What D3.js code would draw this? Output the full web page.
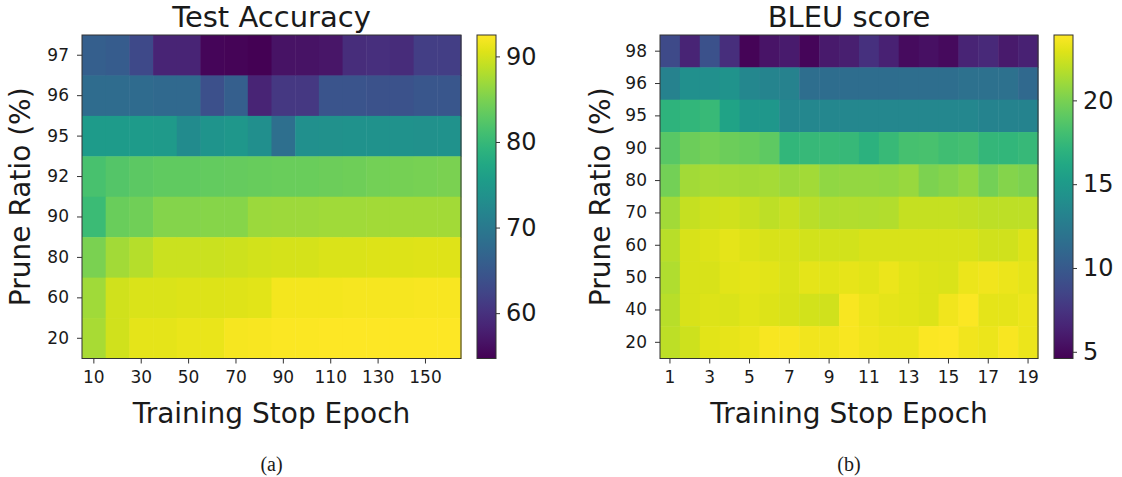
<!DOCTYPE html>
<html>
<head>
<meta charset="utf-8">
<title>Heatmaps</title>
<script src="https://d3js.org/d3.v7.min.js"></script>
<style>
  body { margin: 0; background: #fff; }
  svg text { font-family: "DejaVu Sans", sans-serif; fill: #1a1a1a; }
  .axis path, .axis line { stroke: #333; }
  .caption { font-family: "Liberation Serif", "Times New Roman", serif !important; }
</style>
</head>
<body>
<svg width="1122" height="477"></svg>
<script>
// ---- panel (a): test accuracy ----
var accEpochs = [10, 20, 30, 40, 50, 60, 70, 80, 90, 100, 110, 120, 130, 140, 150, 160];
var accRatios = [97, 96, 95, 92, 90, 80, 60, 20];
var accTicks = [10, 30, 50, 70, 90, 110, 130, 150];
var accBarTicks = [60, 70, 80, 90];
var accValues = [
  [66.0, 65.5, 63.0, 58.5, 58.5, 55.2, 55.0, 54.8, 56.5, 56.5, 56.8, 59.5, 59.8, 59.3, 61.5, 61.5],
  [67.9, 67.9, 67.8, 67.5, 67.5, 64.0, 66.0, 58.5, 60.8, 60.8, 64.5, 64.5, 64.2, 64.2, 64.8, 64.8],
  [75.3, 75.3, 75.3, 75.2, 72.8, 74.2, 74.7, 73.4, 68.3, 73.6, 73.7, 74.0, 74.0, 73.8, 73.7, 73.9],
  [81.5, 82.4, 83.0, 83.2, 83.3, 83.4, 83.6, 83.7, 83.8, 83.9, 84.0, 84.2, 84.4, 84.6, 84.7, 84.9],
  [80.4, 83.8, 84.3, 85.5, 85.5, 85.7, 85.6, 86.8, 87.0, 87.0, 87.1, 87.1, 87.2, 87.2, 87.3, 87.3],
  [84.9, 87.2, 88.3, 89.4, 89.5, 89.5, 89.6, 89.9, 90.0, 90.1, 90.3, 90.4, 90.5, 90.5, 90.6, 90.6],
  [87.1, 89.7, 90.3, 90.4, 90.5, 90.5, 90.6, 90.8, 91.8, 91.9, 91.9, 92.0, 92.0, 92.0, 92.1, 92.1],
  [87.5, 89.8, 90.9, 91.0, 91.2, 91.3, 92.0, 92.2, 92.3, 92.3, 92.4, 92.4, 92.4, 92.5, 92.5, 92.5]
];

// ---- panel (b): BLEU score ----
var bleuEpochs = [1, 2, 3, 4, 5, 6, 7, 8, 9, 10, 11, 12, 13, 14, 15, 16, 17, 18, 19];
var bleuRatios = [98, 96, 95, 90, 80, 70, 60, 50, 40, 20];
var bleuTicks = [1, 3, 5, 7, 9, 11, 13, 15, 17, 19];
var bleuBarTicks = [5, 10, 15, 20];
var bleuValues = [
  [8.9, 6.5, 9.4, 7.1, 4.8, 5.6, 6.0, 4.9, 5.9, 6.2, 7.3, 6.4, 5.2, 5.4, 5.1, 6.5, 6.8, 5.9, 6.4],
  [13.1, 14.2, 14.2, 14.5, 13.5, 13.3, 13.1, 11.5, 11.4, 11.4, 11.4, 11.4, 11.5, 11.5, 11.5, 11.7, 11.7, 11.7, 11.1],
  [17.1, 17.3, 17.6, 15.8, 14.8, 14.8, 13.5, 13.5, 13.5, 13.5, 13.5, 13.5, 13.5, 13.5, 13.5, 13.5, 13.2, 13.2, 13.2],
  [18.9, 19.6, 19.8, 19.6, 19.4, 19.1, 17.3, 17.5, 17.6, 17.5, 16.9, 17.6, 18.2, 18.3, 18.0, 18.1, 17.4, 17.3, 17.5],
  [19.8, 21.2, 21.4, 21.3, 21.2, 21.3, 21.0, 21.2, 20.7, 20.8, 20.8, 20.7, 20.9, 20.1, 20.3, 20.7, 19.8, 20.3, 20.1],
  [21.2, 22.2, 22.4, 22.5, 22.3, 22.0, 22.3, 21.9, 21.6, 21.7, 21.6, 21.7, 22.2, 22.2, 22.2, 22.1, 22.0, 22.0, 22.0],
  [21.8, 22.7, 22.9, 23.1, 22.9, 22.7, 22.7, 22.6, 22.6, 22.6, 22.7, 22.7, 22.7, 22.7, 22.7, 22.7, 22.5, 22.5, 22.9],
  [21.6, 22.7, 22.7, 23.0, 23.1, 23.0, 22.8, 23.1, 23.0, 23.2, 23.0, 23.3, 23.0, 22.9, 22.8, 23.3, 23.5, 23.3, 23.1],
  [21.8, 22.7, 22.9, 22.8, 23.0, 22.9, 22.7, 22.6, 22.5, 23.7, 23.3, 23.1, 23.0, 22.9, 23.5, 23.8, 23.1, 23.1, 23.3],
  [22.0, 22.4, 23.0, 23.2, 23.3, 23.7, 23.7, 23.5, 23.5, 23.7, 23.5, 23.3, 23.3, 23.8, 23.85, 23.5, 23.3, 23.7, 23.3]
];

var svg = d3.select("svg");
var top0 = 35, bottom0 = 358.5;

function drawPanel(o) {
  var g = svg.append("g");
  var x = d3.scaleBand().domain(o.epochs).range([o.left, o.right]);
  var y = d3.scaleBand().domain(o.ratios).range([top0, bottom0]);
  var color = d3.scaleSequential(d3.interpolateViridis).domain(o.domain);

  // cells
  o.values.forEach(function(row, i) {
    g.selectAll(null)
      .data(row)
      .enter().append("rect")
      .attr("x", function(d, j) { return x(o.epochs[j]); })
      .attr("y", y(o.ratios[i]))
      .attr("width", x.bandwidth() + 0.5)
      .attr("height", y.bandwidth() + 0.5)
      .attr("fill", function(d) { return color(d); });
  });

  g.append("rect")
    .attr("x", o.left).attr("y", top0)
    .attr("width", o.right - o.left).attr("height", bottom0 - top0)
    .attr("fill", "none").attr("stroke", "#333").attr("stroke-width", 1);

  var xAxis = g.append("g")
    .attr("class", "axis")
    .attr("transform", "translate(0," + bottom0 + ")")
    .call(d3.axisBottom(x).tickValues(o.xTicks).tickSize(5).tickPadding(7));
  xAxis.select(".domain").remove();
  xAxis.selectAll("text").style("font-size", "17px");

  var yAxis = g.append("g")
    .attr("class", "axis")
    .attr("transform", "translate(" + o.left + ",0)")
    .call(d3.axisLeft(y).tickSize(5).tickPadding(8));
  yAxis.select(".domain").remove();
  yAxis.selectAll("text").style("font-size", "17px");

  // titles and labels
  var cx = (o.left + o.right) / 2;
  g.append("text").attr("x", cx).attr("y", 27)
    .attr("text-anchor", "middle").style("font-size", "29px").text(o.title);
  g.append("text").attr("x", cx).attr("y", 423)
    .attr("text-anchor", "middle").style("font-size", "28px").text("Training Stop Epoch");
  g.append("text")
    .attr("transform", "translate(" + o.yLabelX + "," + ((top0 + bottom0) / 2) + ") rotate(-90)")
    .attr("text-anchor", "middle").style("font-size", "28px").text("Prune Ratio (%)");
  g.append("text").attr("class", "caption").attr("x", cx).attr("y", 471)
    .attr("text-anchor", "middle").style("font-size", "20px").text(o.caption);

  // colorbar
  var gid = "grad" + o.caption.replace(/\W/g, "");
  var grad = svg.append("defs").append("linearGradient")
    .attr("id", gid).attr("x1", 0).attr("y1", 1).attr("x2", 0).attr("y2", 0);
  d3.range(0, 1.0001, 0.05).forEach(function(t) {
    grad.append("stop").attr("offset", t)
      .attr("stop-color", d3.interpolateViridis(t));
  });
  var cb = d3.scaleLinear().domain(o.domain).range([bottom0, top0]);
  g.append("rect")
    .attr("x", o.barX).attr("y", top0)
    .attr("width", 19).attr("height", bottom0 - top0)
    .attr("fill", "url(#" + gid + ")").attr("stroke", "#333").attr("stroke-width", 1);
  var cAxis = g.append("g")
    .attr("class", "axis")
    .attr("transform", "translate(" + (o.barX + 19) + ",0)")
    .call(d3.axisRight(cb).tickValues(o.barTicks).tickSize(4).tickPadding(6));
  cAxis.select(".domain").remove();
  cAxis.selectAll("text").style("font-size", "24px");
}

drawPanel({
  epochs: accEpochs, ratios: accRatios, values: accValues,
  xTicks: accTicks, barTicks: accBarTicks, domain: [54.7, 92.5],
  left: 82, right: 461, barX: 477, yLabelX: 30,
  title: "Test Accuracy", caption: "(a)"
});

drawPanel({
  epochs: bleuEpochs, ratios: bleuRatios, values: bleuValues,
  xTicks: bleuTicks, barTicks: bleuBarTicks, domain: [4.6, 23.9],
  left: 660, right: 1038, barX: 1054, yLabelX: 610,
  title: "BLEU score", caption: "(b)"
});
</script>
</body>
</html>
